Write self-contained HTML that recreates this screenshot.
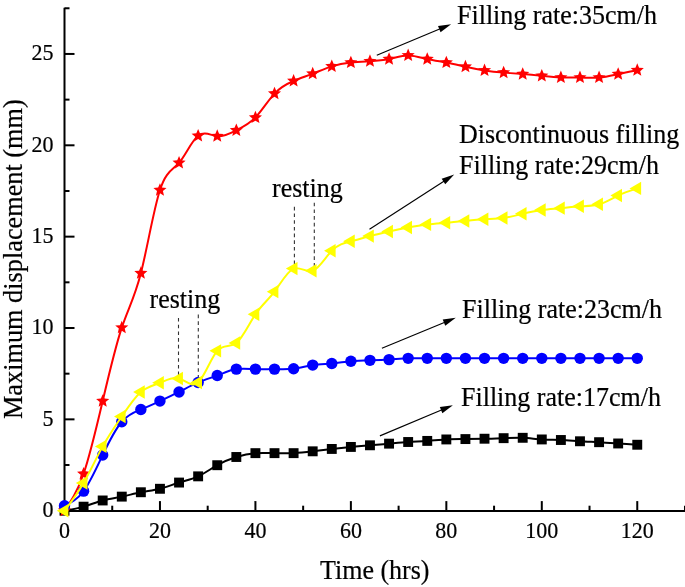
<!DOCTYPE html>
<html><head><meta charset="utf-8"><title>Maximum displacement vs time</title>
<style>
html,body{margin:0;padding:0;background:#fff;}
body{width:685px;height:587px;overflow:hidden;font-family:"Liberation Serif",serif;}
svg{display:block;will-change:transform;}
</style></head><body>
<svg width="685" height="587" viewBox="0 0 685 587"><g stroke="#000" stroke-width="2" fill="none"><line x1="64.5" y1="7.77" x2="64.5" y2="511.70"/><line x1="63.5" y1="510.9" x2="686" y2="510.9"/><line x1="64.5" y1="465.02" x2="69.50" y2="465.02"/><line x1="64.5" y1="419.35" x2="74.50" y2="419.35"/><line x1="64.5" y1="373.67" x2="69.50" y2="373.67"/><line x1="64.5" y1="328.00" x2="74.50" y2="328.00"/><line x1="64.5" y1="282.32" x2="69.50" y2="282.32"/><line x1="64.5" y1="236.65" x2="74.50" y2="236.65"/><line x1="64.5" y1="190.98" x2="69.50" y2="190.98"/><line x1="64.5" y1="145.30" x2="74.50" y2="145.30"/><line x1="64.5" y1="99.62" x2="69.50" y2="99.62"/><line x1="64.5" y1="53.95" x2="74.50" y2="53.95"/><line x1="64.5" y1="8.27" x2="69.50" y2="8.27"/><line x1="112.23" y1="510.90" x2="112.23" y2="505.70"/><line x1="159.96" y1="510.90" x2="159.96" y2="501.10"/><line x1="207.69" y1="510.90" x2="207.69" y2="505.70"/><line x1="255.42" y1="510.90" x2="255.42" y2="501.10"/><line x1="303.15" y1="510.90" x2="303.15" y2="505.70"/><line x1="350.88" y1="510.90" x2="350.88" y2="501.10"/><line x1="398.61" y1="510.90" x2="398.61" y2="505.70"/><line x1="446.34" y1="510.90" x2="446.34" y2="501.10"/><line x1="494.07" y1="510.90" x2="494.07" y2="505.70"/><line x1="541.80" y1="510.90" x2="541.80" y2="501.10"/><line x1="589.53" y1="510.90" x2="589.53" y2="505.70"/><line x1="637.26" y1="510.90" x2="637.26" y2="501.10"/><line x1="684.99" y1="510.90" x2="684.99" y2="505.70"/></g><g font-family="Liberation Serif" font-size="22" fill="#000" stroke="#000" stroke-width="0.2"><text transform="translate(53.40 516.90) scale(1 1.050)" text-anchor="end">0</text><text transform="translate(53.40 425.55) scale(1 1.050)" text-anchor="end">5</text><text transform="translate(53.40 334.20) scale(1 1.050)" text-anchor="end">10</text><text transform="translate(53.40 242.85) scale(1 1.050)" text-anchor="end">15</text><text transform="translate(53.40 151.50) scale(1 1.050)" text-anchor="end">20</text><text transform="translate(53.40 60.15) scale(1 1.050)" text-anchor="end">25</text><text transform="translate(64.50 538.40) scale(1 1.050)" text-anchor="middle">0</text><text transform="translate(159.96 538.40) scale(1 1.050)" text-anchor="middle">20</text><text transform="translate(255.42 538.40) scale(1 1.050)" text-anchor="middle">40</text><text transform="translate(350.88 538.40) scale(1 1.050)" text-anchor="middle">60</text><text transform="translate(446.34 538.40) scale(1 1.050)" text-anchor="middle">80</text><text transform="translate(541.80 538.40) scale(1 1.050)" text-anchor="middle">100</text><text transform="translate(637.26 538.40) scale(1 1.050)" text-anchor="middle">120</text></g><g font-family="Liberation Serif" font-size="26" fill="#000" stroke="#000" stroke-width="0.2"><text transform="translate(320.00 578.60) scale(1 1.050)">Time (hrs)</text><text font-size="26.3" transform="translate(21.9 419.0) rotate(-90) scale(1 1.050)">Maximum displacement (mm)</text></g><g stroke="#333" stroke-width="1.1" stroke-dasharray="3.6 3.1"><line x1="178.5" y1="318" x2="178.5" y2="376"/><line x1="198.3" y1="314.6" x2="198.3" y2="380"/><line x1="294.4" y1="206.8" x2="294.4" y2="264"/><line x1="314.3" y1="202.7" x2="314.3" y2="266"/></g><g fill="none" stroke-width="2" stroke-linejoin="round"><path d="M64.50 510.70C70.86 509.62 77.23 508.54 83.59 506.68C89.96 504.82 96.32 502.19 102.68 500.47C109.05 498.75 115.41 497.95 121.78 496.63C128.14 495.31 134.50 493.48 140.87 492.25C147.23 491.02 153.60 490.40 159.96 488.78C166.32 487.15 172.69 484.53 179.05 482.56C185.42 480.60 191.78 479.30 198.14 476.35C204.51 473.41 210.87 468.82 217.24 465.21C223.60 461.60 229.96 458.97 236.33 456.99C242.69 455.00 249.06 453.66 255.42 453.15C261.78 452.63 268.15 452.94 274.51 453.15C280.88 453.36 287.24 453.46 293.60 453.15C299.97 452.84 306.33 452.11 312.70 451.32C319.06 450.54 325.42 449.70 331.79 448.95C338.15 448.20 344.52 447.53 350.88 446.94C357.24 446.34 363.61 445.82 369.97 445.29C376.34 444.77 382.70 444.23 389.06 443.65C395.43 443.07 401.79 442.43 408.16 442.00C414.52 441.58 420.88 441.36 427.25 440.91C433.61 440.46 439.98 439.78 446.34 439.45C452.70 439.12 459.07 439.15 465.43 439.08C471.80 439.02 478.16 438.86 484.52 438.72C490.89 438.57 497.25 438.43 503.62 438.17C509.98 437.91 516.34 437.52 522.71 437.80C529.07 438.08 535.44 439.03 541.80 439.45C548.16 439.86 554.53 439.74 560.89 440.00C567.26 440.25 573.62 440.87 579.98 441.27C586.35 441.68 592.71 441.85 599.08 442.19C605.44 442.52 611.80 443.01 618.17 443.47C624.53 443.92 630.90 444.33 637.26 444.75" stroke="#000"/><path d="M64.50 510.70C70.86 501.38 77.23 492.06 83.59 473.79C89.96 455.53 96.32 428.31 102.68 401.08C109.05 373.85 115.41 346.61 121.78 327.63C128.14 308.66 134.50 297.96 140.87 273.19C147.23 248.42 153.60 209.60 159.96 190.06C166.32 170.52 172.69 170.28 179.05 162.84C185.42 155.40 191.78 140.77 198.14 135.80C204.51 130.83 210.87 135.50 217.24 136.17C223.60 136.83 229.96 133.47 236.33 130.32C242.69 127.17 249.06 124.22 255.42 117.53C261.78 110.84 268.15 100.39 274.51 93.60C280.88 86.80 287.24 83.65 293.60 80.99C299.97 78.33 306.33 76.17 312.70 73.68C319.06 71.19 325.42 68.36 331.79 66.37C338.15 64.38 344.52 63.23 350.88 62.54C357.24 61.84 363.61 61.61 369.97 61.26C376.34 60.90 382.70 60.43 389.06 59.07C395.43 57.70 401.79 55.44 408.16 55.41C414.52 55.38 420.88 57.57 427.25 59.07C433.61 60.56 439.98 61.35 446.34 62.54C452.70 63.73 459.07 65.31 465.43 66.74C471.80 68.16 478.16 69.42 484.52 70.39C490.89 71.36 497.25 72.04 503.62 72.59C509.98 73.13 516.34 73.53 522.71 74.05C529.07 74.56 535.44 75.19 541.80 75.87C548.16 76.56 554.53 77.30 560.89 77.52C567.26 77.74 573.62 77.44 579.98 77.52C586.35 77.60 592.71 78.06 599.08 77.52C605.44 76.98 611.80 75.43 618.17 74.05C624.53 72.66 630.90 71.44 637.26 70.21" stroke="#f00"/></g><g fill="#000"><rect x="59.55" y="505.75" width="9.9" height="9.9"/><rect x="78.64" y="501.73" width="9.9" height="9.9"/><rect x="97.73" y="495.52" width="9.9" height="9.9"/><rect x="116.83" y="491.68" width="9.9" height="9.9"/><rect x="135.92" y="487.30" width="9.9" height="9.9"/><rect x="155.01" y="483.83" width="9.9" height="9.9"/><rect x="174.10" y="477.61" width="9.9" height="9.9"/><rect x="193.19" y="471.40" width="9.9" height="9.9"/><rect x="212.29" y="460.26" width="9.9" height="9.9"/><rect x="231.38" y="452.04" width="9.9" height="9.9"/><rect x="250.47" y="448.20" width="9.9" height="9.9"/><rect x="269.56" y="448.20" width="9.9" height="9.9"/><rect x="288.65" y="448.20" width="9.9" height="9.9"/><rect x="307.75" y="446.37" width="9.9" height="9.9"/><rect x="326.84" y="444.00" width="9.9" height="9.9"/><rect x="345.93" y="441.99" width="9.9" height="9.9"/><rect x="365.02" y="440.34" width="9.9" height="9.9"/><rect x="384.11" y="438.70" width="9.9" height="9.9"/><rect x="403.21" y="437.05" width="9.9" height="9.9"/><rect x="422.30" y="435.96" width="9.9" height="9.9"/><rect x="441.39" y="434.50" width="9.9" height="9.9"/><rect x="460.48" y="434.13" width="9.9" height="9.9"/><rect x="479.57" y="433.77" width="9.9" height="9.9"/><rect x="498.67" y="433.22" width="9.9" height="9.9"/><rect x="517.76" y="432.85" width="9.9" height="9.9"/><rect x="536.85" y="434.50" width="9.9" height="9.9"/><rect x="555.94" y="435.05" width="9.9" height="9.9"/><rect x="575.03" y="436.32" width="9.9" height="9.9"/><rect x="594.13" y="437.24" width="9.9" height="9.9"/><rect x="613.22" y="438.52" width="9.9" height="9.9"/><rect x="632.31" y="439.80" width="9.9" height="9.9"/></g><g fill="#f00"><polygon points="64.50,503.80 66.32,508.19 71.06,508.57 67.45,511.66 68.56,516.28 64.50,513.80 60.44,516.28 61.55,511.66 57.94,508.57 62.68,508.19"/><polygon points="83.59,466.89 85.41,471.29 90.15,471.66 86.54,474.75 87.65,479.38 83.59,476.89 79.54,479.38 80.64,474.75 77.03,471.66 81.77,471.29"/><polygon points="102.68,394.18 104.51,398.57 109.25,398.95 105.63,402.04 106.74,406.66 102.68,404.18 98.63,406.66 99.74,402.04 96.12,398.95 100.86,398.57"/><polygon points="121.78,320.73 123.60,325.13 128.34,325.50 124.72,328.59 125.83,333.22 121.78,330.73 117.72,333.22 118.83,328.59 115.21,325.50 119.95,325.13"/><polygon points="140.87,266.29 142.69,270.68 147.43,271.06 143.82,274.15 144.92,278.77 140.87,276.29 136.81,278.77 137.92,274.15 134.31,271.06 139.05,270.68"/><polygon points="159.96,183.16 161.78,187.55 166.52,187.93 162.91,191.02 164.02,195.64 159.96,193.16 155.90,195.64 157.01,191.02 153.40,187.93 158.14,187.55"/><polygon points="179.05,155.94 180.87,160.33 185.61,160.71 182.00,163.80 183.11,168.42 179.05,165.94 175.00,168.42 176.10,163.80 172.49,160.71 177.23,160.33"/><polygon points="198.14,128.90 199.97,133.29 204.71,133.67 201.09,136.76 202.20,141.38 198.14,138.90 194.09,141.38 195.20,136.76 191.58,133.67 196.32,133.29"/><polygon points="217.24,129.27 219.06,133.66 223.80,134.03 220.18,137.12 221.29,141.75 217.24,139.27 213.18,141.75 214.29,137.12 210.67,134.03 215.41,133.66"/><polygon points="236.33,123.42 238.15,127.81 242.89,128.19 239.28,131.28 240.38,135.90 236.33,133.42 232.27,135.90 233.38,131.28 229.77,128.19 234.51,127.81"/><polygon points="255.42,110.63 257.24,115.02 261.98,115.40 258.37,118.49 259.48,123.11 255.42,120.63 251.36,123.11 252.47,118.49 248.86,115.40 253.60,115.02"/><polygon points="274.51,86.70 276.33,91.09 281.07,91.46 277.46,94.55 278.57,99.18 274.51,96.70 270.46,99.18 271.56,94.55 267.95,91.46 272.69,91.09"/><polygon points="293.60,74.09 295.43,78.48 300.17,78.86 296.55,81.95 297.66,86.57 293.60,84.09 289.55,86.57 290.66,81.95 287.04,78.86 291.78,78.48"/><polygon points="312.70,66.78 314.52,71.17 319.26,71.55 315.64,74.64 316.75,79.26 312.70,76.78 308.64,79.26 309.75,74.64 306.13,71.55 310.87,71.17"/><polygon points="331.79,59.47 333.61,63.87 338.35,64.24 334.74,67.33 335.84,71.96 331.79,69.47 327.73,71.96 328.84,67.33 325.23,64.24 329.97,63.87"/><polygon points="350.88,55.64 352.70,60.03 357.44,60.40 353.83,63.49 354.94,68.12 350.88,65.64 346.82,68.12 347.93,63.49 344.32,60.40 349.06,60.03"/><polygon points="369.97,54.36 371.79,58.75 376.53,59.13 372.92,62.22 374.03,66.84 369.97,64.36 365.92,66.84 367.02,62.22 363.41,59.13 368.15,58.75"/><polygon points="389.06,52.17 390.89,56.56 395.63,56.93 392.01,60.02 393.12,64.65 389.06,62.17 385.01,64.65 386.12,60.02 382.50,56.93 387.24,56.56"/><polygon points="408.16,48.51 409.98,52.90 414.72,53.28 411.10,56.37 412.21,60.99 408.16,58.51 404.10,60.99 405.21,56.37 401.59,53.28 406.33,52.90"/><polygon points="427.25,52.17 429.07,56.56 433.81,56.93 430.20,60.02 431.30,64.65 427.25,62.17 423.19,64.65 424.30,60.02 420.69,56.93 425.43,56.56"/><polygon points="446.34,55.64 448.16,60.03 452.90,60.40 449.29,63.49 450.40,68.12 446.34,65.64 442.28,68.12 443.39,63.49 439.78,60.40 444.52,60.03"/><polygon points="465.43,59.84 467.25,64.23 471.99,64.61 468.38,67.70 469.49,72.32 465.43,69.84 461.38,72.32 462.48,67.70 458.87,64.61 463.61,64.23"/><polygon points="484.52,63.49 486.35,67.89 491.09,68.26 487.47,71.35 488.58,75.98 484.52,73.49 480.47,75.98 481.58,71.35 477.96,68.26 482.70,67.89"/><polygon points="503.62,65.69 505.44,70.08 510.18,70.45 506.56,73.54 507.67,78.17 503.62,75.69 499.56,78.17 500.67,73.54 497.05,70.45 501.79,70.08"/><polygon points="522.71,67.15 524.53,71.54 529.27,71.91 525.66,75.00 526.76,79.63 522.71,77.15 518.65,79.63 519.76,75.00 516.15,71.91 520.89,71.54"/><polygon points="541.80,68.97 543.62,73.37 548.36,73.74 544.75,76.83 545.86,81.46 541.80,78.97 537.74,81.46 538.85,76.83 535.24,73.74 539.98,73.37"/><polygon points="560.89,70.62 562.71,75.01 567.45,75.39 563.84,78.48 564.95,83.10 560.89,80.62 556.84,83.10 557.94,78.48 554.33,75.39 559.07,75.01"/><polygon points="579.98,70.62 581.81,75.01 586.55,75.39 582.93,78.48 584.04,83.10 579.98,80.62 575.93,83.10 577.04,78.48 573.42,75.39 578.16,75.01"/><polygon points="599.08,70.62 600.90,75.01 605.64,75.39 602.02,78.48 603.13,83.10 599.08,80.62 595.02,83.10 596.13,78.48 592.51,75.39 597.25,75.01"/><polygon points="618.17,67.15 619.99,71.54 624.73,71.91 621.12,75.00 622.22,79.63 618.17,77.15 614.11,79.63 615.22,75.00 611.61,71.91 616.35,71.54"/><polygon points="637.26,63.31 639.08,67.70 643.82,68.08 640.21,71.17 641.32,75.79 637.26,73.31 633.20,75.79 634.31,71.17 630.70,68.08 635.44,67.70"/></g><path d="M64.50 505.77C70.86 502.76 77.23 499.76 83.59 491.15C89.96 482.54 96.32 468.33 102.68 454.98C109.05 441.62 115.41 429.11 121.78 421.73C128.14 414.34 134.50 412.07 140.87 409.48C147.23 406.90 153.60 404.01 159.96 401.08C166.32 398.15 172.69 395.20 179.05 391.94C185.42 388.69 191.78 385.14 198.14 382.44C204.51 379.75 210.87 377.90 217.24 375.50C223.60 373.11 229.96 370.17 236.33 369.11C242.69 368.04 249.06 368.85 255.42 369.11C261.78 369.36 268.15 369.07 274.51 369.11C280.88 369.14 287.24 369.51 293.60 368.74C299.97 367.98 306.33 366.08 312.70 365.09C319.06 364.10 325.42 364.01 331.79 363.44C338.15 362.88 344.52 361.85 350.88 361.25C357.24 360.66 363.61 360.50 369.97 360.34C376.34 360.18 382.70 360.01 389.06 359.61C395.43 359.20 401.79 358.56 408.16 358.33C414.52 358.09 420.88 358.27 427.25 358.33C433.61 358.39 439.98 358.35 446.34 358.33C452.70 358.31 459.07 358.32 465.43 358.33C471.80 358.33 478.16 358.33 484.52 358.33C490.89 358.33 497.25 358.33 503.62 358.33C509.98 358.33 516.34 358.33 522.71 358.33C529.07 358.33 535.44 358.33 541.80 358.33C548.16 358.33 554.53 358.33 560.89 358.33C567.26 358.33 573.62 358.33 579.98 358.33C586.35 358.33 592.71 358.33 599.08 358.33C605.44 358.33 611.80 358.33 618.17 358.33C624.53 358.33 630.90 358.33 637.26 358.33" stroke="#00f" fill="none" stroke-width="2"/><g fill="#00f"><circle cx="64.50" cy="505.77" r="5.7"/><circle cx="83.59" cy="491.15" r="5.7"/><circle cx="102.68" cy="454.98" r="5.7"/><circle cx="121.78" cy="421.73" r="5.7"/><circle cx="140.87" cy="409.48" r="5.7"/><circle cx="159.96" cy="401.08" r="5.7"/><circle cx="179.05" cy="391.94" r="5.7"/><circle cx="198.14" cy="382.44" r="5.7"/><circle cx="217.24" cy="375.50" r="5.7"/><circle cx="236.33" cy="369.11" r="5.7"/><circle cx="255.42" cy="369.11" r="5.7"/><circle cx="274.51" cy="369.11" r="5.7"/><circle cx="293.60" cy="368.74" r="5.7"/><circle cx="312.70" cy="365.09" r="5.7"/><circle cx="331.79" cy="363.44" r="5.7"/><circle cx="350.88" cy="361.25" r="5.7"/><circle cx="369.97" cy="360.34" r="5.7"/><circle cx="389.06" cy="359.61" r="5.7"/><circle cx="408.16" cy="358.33" r="5.7"/><circle cx="427.25" cy="358.33" r="5.7"/><circle cx="446.34" cy="358.33" r="5.7"/><circle cx="465.43" cy="358.33" r="5.7"/><circle cx="484.52" cy="358.33" r="5.7"/><circle cx="503.62" cy="358.33" r="5.7"/><circle cx="522.71" cy="358.33" r="5.7"/><circle cx="541.80" cy="358.33" r="5.7"/><circle cx="560.89" cy="358.33" r="5.7"/><circle cx="579.98" cy="358.33" r="5.7"/><circle cx="599.08" cy="358.33" r="5.7"/><circle cx="618.17" cy="358.33" r="5.7"/><circle cx="637.26" cy="358.33" r="5.7"/></g><path d="M64.50 510.70C70.86 502.38 77.23 494.05 83.59 482.93C89.96 471.81 96.32 457.89 102.68 446.39C109.05 434.89 115.41 425.80 121.78 416.43C128.14 407.05 134.50 397.38 140.87 391.94C147.23 386.51 153.60 385.31 159.96 382.81C166.32 380.31 172.69 376.50 179.05 378.43C185.42 380.35 191.78 388.01 198.14 382.44C204.51 376.87 210.87 358.07 217.24 350.84C223.60 343.60 229.96 347.93 236.33 342.98C242.69 338.03 249.06 323.79 255.42 314.30C261.78 304.80 268.15 300.05 274.51 291.64C280.88 283.23 287.24 271.17 293.60 268.62C299.97 266.08 306.33 273.05 312.70 270.81C319.06 268.58 325.42 257.15 331.79 250.72C338.15 244.28 344.52 242.85 350.88 241.22C357.24 239.59 363.61 237.76 369.97 236.10C376.34 234.44 382.70 232.96 389.06 231.53C395.43 230.11 401.79 228.75 408.16 227.51C414.52 226.28 420.88 225.16 427.25 224.41C433.61 223.66 439.98 223.28 446.34 222.76C452.70 222.25 459.07 221.59 465.43 220.94C471.80 220.29 478.16 219.64 484.52 219.29C490.89 218.95 497.25 218.91 503.62 218.01C509.98 217.12 516.34 215.38 522.71 213.81C529.07 212.24 535.44 210.85 541.80 209.98C548.16 209.10 554.53 208.76 560.89 208.15C567.26 207.54 573.62 206.66 579.98 206.32C586.35 205.98 592.71 206.17 599.08 204.31C605.44 202.45 611.80 198.53 618.17 195.54C624.53 192.55 630.90 190.48 637.26 188.42" stroke="#ff0" fill="none" stroke-width="2"/><g fill="#ff0"><polygon points="56.77,510.70 68.37,504.00 68.37,517.40"/><polygon points="75.86,482.93 87.46,476.23 87.46,489.63"/><polygon points="94.95,446.39 106.55,439.69 106.55,453.09"/><polygon points="114.04,416.43 125.64,409.73 125.64,423.13"/><polygon points="133.13,391.94 144.73,385.25 144.73,398.64"/><polygon points="152.23,382.81 163.83,376.11 163.83,389.51"/><polygon points="171.32,378.43 182.92,371.73 182.92,385.13"/><polygon points="190.41,382.44 202.01,375.74 202.01,389.14"/><polygon points="209.50,350.84 221.10,344.14 221.10,357.54"/><polygon points="228.59,342.98 240.19,336.28 240.19,349.68"/><polygon points="247.69,314.30 259.29,307.60 259.29,321.00"/><polygon points="266.78,291.64 278.38,284.94 278.38,298.34"/><polygon points="285.87,268.62 297.47,261.92 297.47,275.32"/><polygon points="304.96,270.81 316.56,264.11 316.56,277.51"/><polygon points="324.05,250.72 335.65,244.02 335.65,257.42"/><polygon points="343.15,241.22 354.75,234.52 354.75,247.92"/><polygon points="362.24,236.10 373.84,229.40 373.84,242.80"/><polygon points="381.33,231.53 392.93,224.83 392.93,238.23"/><polygon points="400.42,227.51 412.02,220.81 412.02,234.21"/><polygon points="419.51,224.41 431.11,217.71 431.11,231.11"/><polygon points="438.61,222.76 450.21,216.06 450.21,229.46"/><polygon points="457.70,220.94 469.30,214.24 469.30,227.64"/><polygon points="476.79,219.29 488.39,212.59 488.39,225.99"/><polygon points="495.88,218.01 507.48,211.31 507.48,224.71"/><polygon points="514.97,213.81 526.57,207.11 526.57,220.51"/><polygon points="534.07,209.98 545.67,203.28 545.67,216.68"/><polygon points="553.16,208.15 564.76,201.45 564.76,214.85"/><polygon points="572.25,206.32 583.85,199.62 583.85,213.02"/><polygon points="591.34,204.31 602.94,197.61 602.94,211.01"/><polygon points="610.43,195.54 622.03,188.84 622.03,202.24"/><polygon points="629.53,188.42 641.13,181.72 641.13,195.12"/></g><line x1="376.80" y1="55.30" x2="440.22" y2="28.76" stroke="#000" stroke-width="1.15"/><polygon points="451.10,24.20 440.57,32.19 438.02,26.10" fill="#000"/><line x1="369.50" y1="229.30" x2="444.29" y2="181.00" stroke="#000" stroke-width="1.15"/><polygon points="454.20,174.60 445.24,184.32 441.66,178.77" fill="#000"/><line x1="381.90" y1="348.30" x2="444.90" y2="322.21" stroke="#000" stroke-width="1.15"/><polygon points="455.80,317.70 445.24,325.65 442.71,319.55" fill="#000"/><line x1="379.90" y1="435.90" x2="442.02" y2="409.77" stroke="#000" stroke-width="1.15"/><polygon points="452.90,405.20 442.38,413.20 439.82,407.12" fill="#000"/><g font-family="Liberation Serif" font-size="26" fill="#000" stroke="#000" stroke-width="0.2"><text transform="translate(457.00 23.80) scale(1 1.050)">Filling rate:35cm/h</text><text transform="translate(459.00 142.60) scale(1 1.050)">Discontinuous filling</text><text transform="translate(459.00 174.40) scale(1 1.050)">Filling rate:29cm/h</text><text transform="translate(462.00 317.90) scale(1 1.050)">Filling rate:23cm/h</text><text transform="translate(461.00 406.10) scale(1 1.050)">Filling rate:17cm/h</text><text transform="translate(149.50 307.80) scale(1 1.050)">resting</text><text transform="translate(272.00 196.70) scale(1 1.050)">resting</text></g></svg>
</body></html>
